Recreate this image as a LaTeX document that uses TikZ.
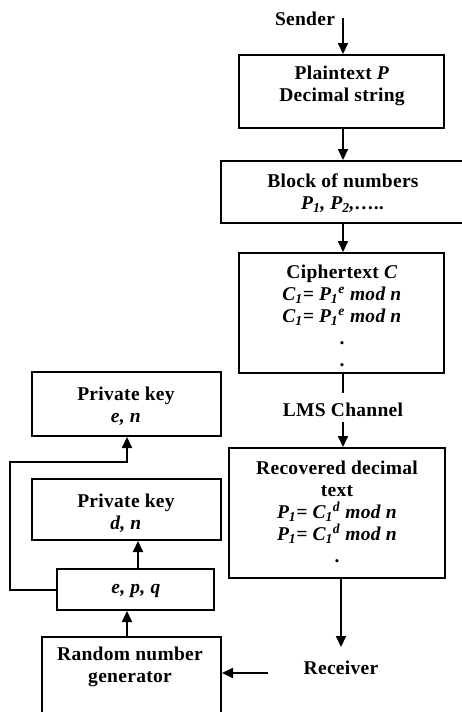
\documentclass[tikz,border=0pt]{standalone}
\usepackage{fontspec}
\setmainfont{Liberation Serif}[LetterSpace=1.5]
\usetikzlibrary{arrows.meta}
\begin{document}
\begin{tikzpicture}[x=1pt,y=-1pt,
  box/.style={draw, line width=2pt, inner sep=0pt},
  txt/.style={font=\fontsize{19.5}{22}\selectfont\bfseries, align=center, inner sep=0pt},
  arr/.style={line width=2pt, -{Triangle[length=11pt,width=10pt]}},
  ln/.style={line width=2pt}]
\useasboundingbox (0,0) rectangle (462,712);
\clip (0,0) rectangle (462,712);
\fill[white] (0,0) rectangle (462,712);
% boxes
\node[box, minimum width=205pt, minimum height=73pt] (plain) at (341.5,91.5) {};
\node[box, minimum width=249pt, minimum height=62pt] (block) at (345.5,192) {};
\node[box, minimum width=205pt, minimum height=120pt] (cipher) at (341.5,313) {};
\node[box, minimum width=216pt, minimum height=130pt] (recov) at (337,513) {};
\node[box, minimum width=189pt, minimum height=64pt] (pk1) at (126.5,404) {};
\node[box, minimum width=189pt, minimum height=61pt] (pk2) at (126.5,509.5) {};
\node[box, minimum width=157pt, minimum height=41pt] (epq) at (135.5,589.5) {};
\node[box, minimum width=179pt, minimum height=83pt] (rng) at (131.5,678.5) {};
% texts
\node[txt] (tsender) at (305,19) {Sender};
\node[txt] (tplain) at (342,86) {Plaintext \textit{P}\\Decimal string};
\node[txt] (tblock) at (343,193) {Block of numbers\\\textit{P\textsubscript{1}, P\textsubscript{2},…..}};
\node[txt] (tcipher) at (342,316) {Ciphertext \textit{C}\\\textit{C\textsubscript{1}= P\textsubscript{1}\textsuperscript{e} mod n}\\\textit{C\textsubscript{1}= P\textsubscript{1}\textsuperscript{e} mod n}\\.\\.};
\node[txt] (tlms) at (343,410) {LMS Channel};
\node[txt] (trecov) at (337,512) {Recovered decimal\\text\\\textit{P\textsubscript{1}= C\textsubscript{1}\textsuperscript{d} mod n}\\\textit{P\textsubscript{1}= C\textsubscript{1}\textsuperscript{d} mod n}\\.};
\node[txt] (trecv) at (341,668) {Receiver};
\node[txt] (tpk1) at (126,406) {Private key\\\textit{e, n}};
\node[txt] (tpk2) at (126,513) {Private key\\\textit{d, n}};
\node[txt] (tepq) at (136,591) {\textit{e, p, q}};
\node[txt] (trng) at (130,667) {Random number\\generator};
% connectors
\coordinate (s0) at (343,18);
\draw[arr] (s0) -- (plain.north -| s0);
\draw[arr] (plain.south -| s0) -- (block.north -| s0);
\draw[arr] (block.south -| s0) -- (cipher.north -| s0);
\coordinate (l1) at (343,393);
\draw[ln] (cipher.south -| l1) -- (l1);
\coordinate (l2) at (343,422);
\draw[arr] (l2) -- (recov.north -| l2);
\coordinate (r1) at (341,647);
\draw[arr] (recov.south -| r1) -- (r1);
\coordinate (r2) at (268,673);
\draw[arr] (r2) -- (rng.east |- r2);
\coordinate (g1) at (127,0);
\coordinate (g2) at (138,0);
\draw[arr] (rng.north -| g1) -- (epq.south -| g1);
\draw[arr] (epq.north -| g2) -- (pk2.south -| g2);
\coordinate (k1) at (10,462);
\draw[arr] (epq.west) -| (k1) -- (k1 -| g1) -- (pk1.south -| g1);
\end{tikzpicture}
\end{document}
